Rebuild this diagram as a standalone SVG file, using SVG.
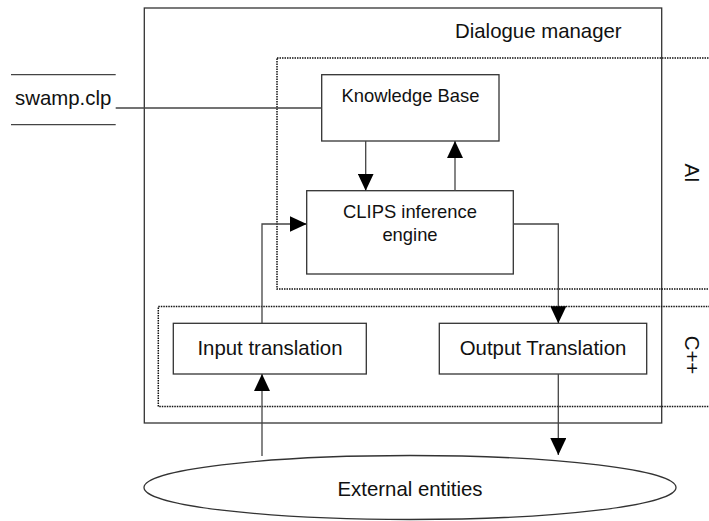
<svg xmlns="http://www.w3.org/2000/svg" width="709" height="521" viewBox="0 0 709 521">
  <style>
    .box { fill: #fff; stroke: #333; stroke-width: 1.3; }
    .frame { fill: none; stroke: #333; stroke-width: 1.3; }
    .layer { fill: none; stroke: #111; stroke-width: 1.5; stroke-dasharray: 1.5 1; }
    .wire { fill: none; stroke: #444; stroke-width: 1.3; }
    .arrow { marker-end: url(#head); }
    text { font-family: "Liberation Sans", Arial, sans-serif; fill: #111; }
    .t10 { font-size: 20.4px; }
    .t9 { font-size: 18.4px; }
    .mid { text-anchor: middle; }
  </style>
  <defs>
    <marker id="head" markerUnits="userSpaceOnUse" markerWidth="17" markerHeight="16" refX="17" refY="8" orient="auto">
      <path d="M0,0 L17,8 L0,16 Z" fill="#000"/>
    </marker>
  </defs>

  <rect width="709" height="521" fill="#fff"/>

  <!-- outer container -->
  <g id="dialogue-manager">
    <rect class="frame" x="144.3" y="8" width="517.4" height="415"/>
    <text class="t10" x="455" y="38.3">Dialogue manager</text>
  </g>

  <!-- dotted layer bands -->
  <g id="ai-layer">
    <rect class="layer" x="277" y="58" width="460" height="231"/>
    <text class="t10 mid" transform="translate(685,173) rotate(90)">AI</text>
  </g>
  <g id="cpp-layer">
    <rect class="layer" x="158.3" y="306.5" width="580" height="100"/>
    <text class="t10 mid" transform="translate(685,355) rotate(90)">C++</text>
  </g>

  <!-- data store -->
  <g id="swamp-clp">
    <line class="wire" x1="11" y1="74.7" x2="115.7" y2="74.7"/>
    <line class="wire" x1="11" y1="124.7" x2="115.7" y2="124.7"/>
    <text class="t10" x="15" y="105">swamp.clp</text>
  </g>

  <g id="knowledge-base">
    <rect class="box" x="321.7" y="74.7" width="177.3" height="66.3"/>
    <text class="t9 mid" x="410.5" y="101.7">Knowledge Base</text>
  </g>

  <g id="clips-engine">
    <rect class="box" x="306.7" y="190.7" width="206.6" height="83.3"/>
    <text class="t9 mid" x="410" y="218.3">CLIPS inference</text>
    <text class="t9 mid" x="410" y="240.5">engine</text>
  </g>

  <g id="input-translation">
    <rect class="box" x="173.3" y="323.3" width="193" height="50.7"/>
    <text class="t10 mid" x="270" y="355">Input translation</text>
  </g>

  <g id="output-translation">
    <rect class="box" x="439.3" y="323.3" width="207.4" height="50.7"/>
    <text class="t10 mid" x="543" y="355">Output Translation</text>
  </g>

  <g id="external-entities">
    <ellipse class="box" cx="410" cy="487.5" rx="266" ry="32"/>
    <text class="t10 mid" x="410" y="496">External entities</text>
  </g>

  <!-- connectors -->
  <g id="connectors">
    <path class="wire" d="M115.7,108 H321.7"/>
    <path class="wire arrow" d="M365.7,141 V190.7"/>
    <path class="wire arrow" d="M455,190.7 V141"/>
    <path class="wire arrow" d="M262,323.3 V224 H306.7"/>
    <path class="wire arrow" d="M513.3,224 H558.3 V323.3"/>
    <path class="wire arrow" d="M262,456 V374"/>
    <path class="wire arrow" d="M558.3,374 V455"/>
  </g>
</svg>
